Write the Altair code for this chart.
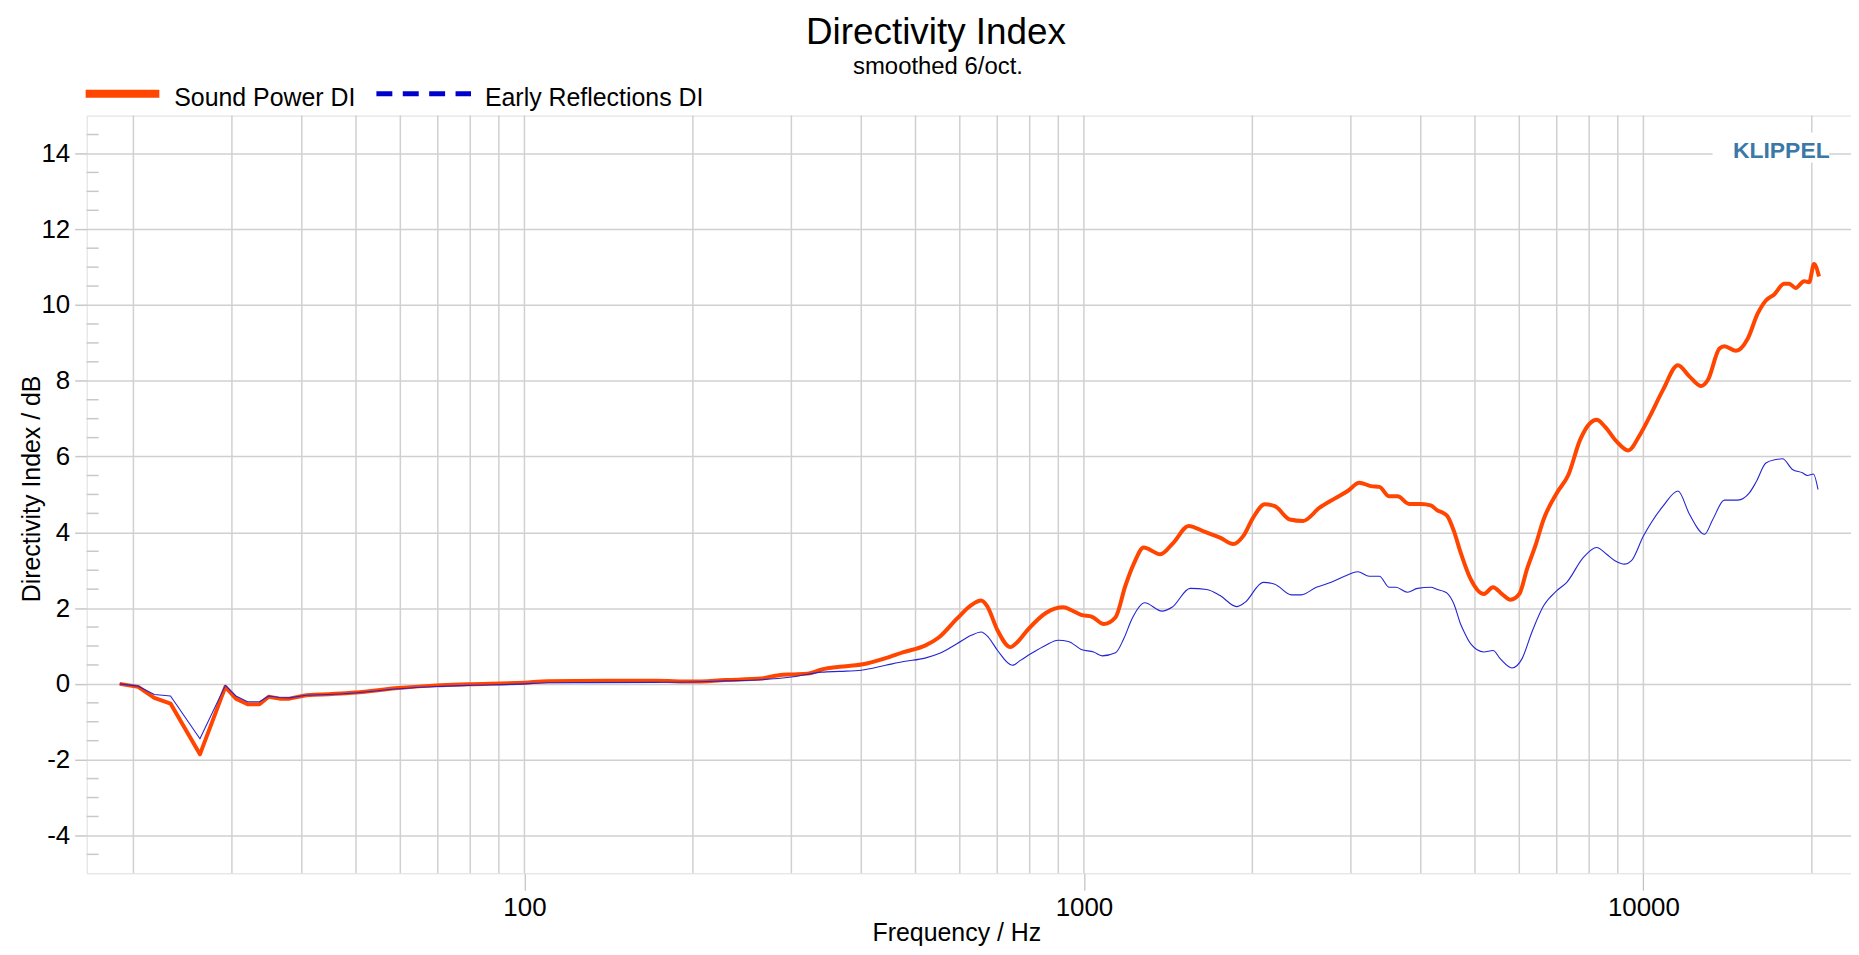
import altair as alt
import pandas as pd

# ---------------- data ----------------
sp_freq = [18.9, 20.4, 21.8, 23.3, 26.3, 29.2, 30.5, 32.0, 33.6, 34.9, 36.5, 38.0, 40.7, 49.9, 59.6, 69.7, 79.4,
           100, 110, 140, 171, 200, 229, 265, 285, 300, 321, 340, 366, 400, 442, 476, 520, 551, 593, 629, 655,
           671, 701, 739, 760, 794, 855, 919, 954, 989, 1034, 1085, 1139, 1186, 1227, 1279, 1369, 1446, 1538,
           1646, 1751, 1849, 1926, 2007, 2105, 2194, 2333, 2464, 2638, 2805, 2961, 3107, 3260, 3373, 3513, 3636,
           3814, 4000, 4168, 4282, 4401, 4461, 4585, 4712, 4910, 5186, 5385, 5589, 5785, 6000, 6194, 6409, 6631,
           7004, 7345, 7706, 8027, 8250, 8535, 8954, 9391, 9853, 10266, 10840, 11527, 12094, 12684, 13037,
           13674, 13957, 14636, 15360, 16002, 16557, 17134, 17850, 18220, 18722, 19375, 19776, 20184, 20601]
sp_val = [0.0, -0.08, -0.37, -0.52, -1.86, -0.08, -0.39, -0.54, -0.54, -0.34, -0.39, -0.39, -0.30, -0.23, -0.11,
          -0.04, -0.01, 0.03, 0.07, 0.08, 0.08, 0.06, 0.10, 0.14, 0.23, 0.25, 0.27, 0.38, 0.45, 0.51, 0.68, 0.84,
          1.01, 1.23, 1.72, 2.08, 2.20, 2.06, 1.41, 0.97, 1.10, 1.43, 1.87, 2.02, 1.93, 1.82, 1.77, 1.58, 1.76,
          2.59, 3.16, 3.60, 3.42, 3.73, 4.17, 4.01, 3.86, 3.69, 3.90, 4.39, 4.74, 4.69, 4.34, 4.30, 4.65, 4.89,
          5.09, 5.31, 5.22, 5.20, 4.95, 4.95, 4.75, 4.75, 4.71, 4.58, 4.50, 4.43, 4.03, 3.47, 2.77, 2.37, 2.55,
          2.37, 2.22, 2.37, 3.03, 3.64, 4.34, 5.04, 5.52, 6.44, 6.88, 6.97, 6.79, 6.40, 6.16, 6.57, 7.06, 7.76,
          8.41, 8.11, 7.86, 8.02, 8.85, 8.91, 8.79, 9.11, 9.77, 10.12, 10.28, 10.56, 10.56, 10.45, 10.63, 10.60,
          11.08, 10.75]

er_freq = [18.9, 20.4, 21.8, 23.3, 26.3, 29.2, 30.5, 32.0, 33.6, 34.9, 36.5, 38.0, 40.7, 49.9, 59.6, 69.7, 79.4,
           100, 110, 171, 200, 229, 265, 300, 340, 366, 400, 442, 476, 520, 551, 593, 629, 655, 675, 701, 745,
           770, 805, 855, 899, 938, 989, 1041, 1078, 1139, 1178, 1219, 1284, 1379, 1437, 1548, 1658, 1751, 1875,
           1940, 2091, 2194, 2349, 2447, 2602, 2767, 2922, 3086, 3237, 3373, 3513, 3611, 3787, 3946, 4168, 4282,
           4401, 4461, 4585, 4712, 4778, 4910, 5186, 5385, 5551, 5823, 6066, 6321, 6631, 7004, 7295, 7812, 8250,
           8595, 8895, 9267, 9522, 10000, 10333, 10840, 11527, 12094, 12861, 13305, 13957, 14741, 15466, 15891,
           16557, 17248, 17727, 18468, 19241, 19640, 20130, 20515]
er_val = [0.0, -0.06, -0.28, -0.32, -1.45, -0.04, -0.32, -0.47, -0.47, -0.32, -0.36, -0.37, -0.30, -0.24, -0.13,
          -0.07, -0.04, 0.0, 0.03, 0.04, 0.05, 0.08, 0.11, 0.18, 0.31, 0.33, 0.36, 0.49, 0.59, 0.68, 0.80, 1.06,
          1.28, 1.37, 1.23, 0.88, 0.49, 0.62, 0.80, 1.02, 1.15, 1.12, 0.91, 0.84, 0.74, 0.82, 1.19, 1.72, 2.14,
          1.92, 2.02, 2.52, 2.49, 2.33, 2.04, 2.15, 2.68, 2.63, 2.35, 2.35, 2.55, 2.68, 2.84, 2.96, 2.84, 2.84,
          2.55, 2.55, 2.42, 2.52, 2.55, 2.49, 2.44, 2.39, 2.11, 1.58, 1.38, 1.06, 0.84, 0.88, 0.66, 0.42, 0.66,
          1.37, 2.06, 2.46, 2.68, 3.34, 3.60, 3.42, 3.25, 3.16, 3.25, 3.90, 4.26, 4.69, 5.09, 4.47, 3.95, 4.34,
          4.85, 4.85, 5.04, 5.32, 5.83, 5.92, 5.94, 5.66, 5.57, 5.50, 5.54, 5.13]

grid_freqs = [20, 30, 40, 50, 60, 70, 80, 90, 100, 200, 300, 400, 500, 600, 700, 800, 900,
              1000, 2000, 3000, 4000, 5000, 6000, 7000, 8000, 9000, 10000, 20000]
x_label_freqs = [100, 1000, 10000]
y_major = [-4, -2, 0, 2, 4, 6, 8, 10, 12, 14]
y_minor = [-4.5, -3.5, -3, -2.5, -1.5, -1, -0.5, 0.5, 1, 1.5, 2.5, 3, 3.5, 4.5, 5, 5.5, 6.5, 7, 7.5,
           8.5, 9, 9.5, 10.5, 11, 11.5, 12.5, 13, 13.5, 14.5]

series_names = ["Sound Power DI", "Early Reflections DI"]
title_text = "Directivity Index"
subtitle_text = "smoothed 6/oct."
x_title = "Frequency / Hz"
y_title = "Directivity Index  / dB"
brand = "KLIPPEL"

# ---------------- layout ----------------
W, H = 1772, 761
FONT = "Liberation Sans"
GRID = "#d0d0d0"
ORANGE = "#FF4500"
BLUE = "#2424d4"
SPLIT = 40.7  # sparse low-frequency points are joined straight, the rest smoothly

sp_df = pd.DataFrame({"f": sp_freq, "v": sp_val})
er_df = pd.DataFrame({"f": er_freq, "v": er_val})

xscale = alt.Scale(type="log", domain=[16.5, 23500], nice=False)
yscale = alt.Scale(domain=[-5, 15], nice=False, zero=False)

x_axis = alt.Axis(values=x_label_freqs, labelExpr="'' + datum.value", grid=False, tickSize=17,
                  tickColor="#c0c0c0", tickWidth=1.2, labelFontSize=26, labelPadding=4,
                  labelColor="black", labelFont=FONT, domain=False, title=None)
y_axis = alt.Axis(values=y_major, labelExpr="'' + datum.value", grid=True, gridColor=GRID,
                  gridWidth=1.5, tickSize=12, tickColor="#c8c8c8", tickWidth=1.5,
                  labelFontSize=26, labelPadding=5, labelColor="black", labelFont=FONT,
                  domain=False, title=None)

one = pd.DataFrame({"a": [0]})

grid = alt.Chart(pd.DataFrame({"f": grid_freqs})).mark_rule(color=GRID, strokeWidth=1.5).encode(
    x=alt.X("f:Q", scale=xscale, axis=x_axis),
    y=alt.value(0), y2=alt.value(H))

minor = alt.Chart(pd.DataFrame({"v": y_minor})).mark_rule(color="#c8c8c8", strokeWidth=1.5).encode(
    y=alt.Y("v:Q", scale=yscale, axis=y_axis),
    x=alt.value(0), x2=alt.value(12))

brand_bg = alt.Chart(one).mark_rect(fill="white").encode(
    x=alt.value(1633), x2=alt.value(1750), y=alt.value(17), y2=alt.value(47))


def line_layers(df, color, width):
    enc = dict(x=alt.X("f:Q", scale=xscale, axis=x_axis),
               y=alt.Y("v:Q", scale=yscale, axis=y_axis),
               order=alt.Order("f:Q"))
    low = alt.Chart(df[df.f <= SPLIT]).mark_line(
        color=color, strokeWidth=width, strokeJoin="round").encode(**enc)
    high = alt.Chart(df[df.f >= SPLIT]).mark_line(
        color=color, strokeWidth=width, strokeJoin="round", interpolate="monotone").encode(**enc)
    return [low, high]


def text_layer(txt, x, y, size, align="left", weight="normal", color="black", angle=0):
    return alt.Chart(pd.DataFrame({"t": [txt]})).mark_text(
        font=FONT, fontSize=size, align=align, baseline="alphabetic", fontWeight=weight,
        color=color, angle=angle).encode(text="t:N", x=alt.value(x), y=alt.value(y))


leg_sp = alt.Chart(one).mark_rule(color=ORANGE, strokeWidth=8, strokeCap="butt").encode(
    x=alt.value(-1), x2=alt.value(73), y=alt.value(-22))
leg_er = alt.Chart(one).mark_rule(color="#0000cc", strokeWidth=5, strokeCap="butt",
                                  strokeDash=[16, 10.5]).encode(
    x=alt.value(291), x2=alt.value(386), y=alt.value(-22))

layers = [grid, minor, brand_bg]
layers += line_layers(sp_df, ORANGE, 4)
layers += line_layers(er_df, BLUE, 1.1)
layers += [
    leg_sp, leg_er,
    text_layer(series_names[0], 88, -10, 25),
    text_layer(series_names[1], 400, -10, 25),
    text_layer(title_text, 853, -72, 37, align="center"),
    text_layer(subtitle_text, 855, -42, 24, align="center"),
    text_layer(x_title, 874, 829, 25, align="center"),
    text_layer(y_title, -47, 375, 25, align="center", angle=270),
    text_layer(brand, 1702, 43, 23, align="center", weight="bold", color="#3a78a6"),
]

chart = alt.layer(*layers).properties(
    width=W, height=H,
    padding={"left": 79, "top": 106, "right": 0, "bottom": 78},
    autosize=alt.AutoSizeParams(type="none"),
).configure_view(stroke="#c8c8c8", strokeWidth=1.5).configure(font=FONT)

chart.save("out.html", embed_options={"renderer": "svg", "actions": False})
